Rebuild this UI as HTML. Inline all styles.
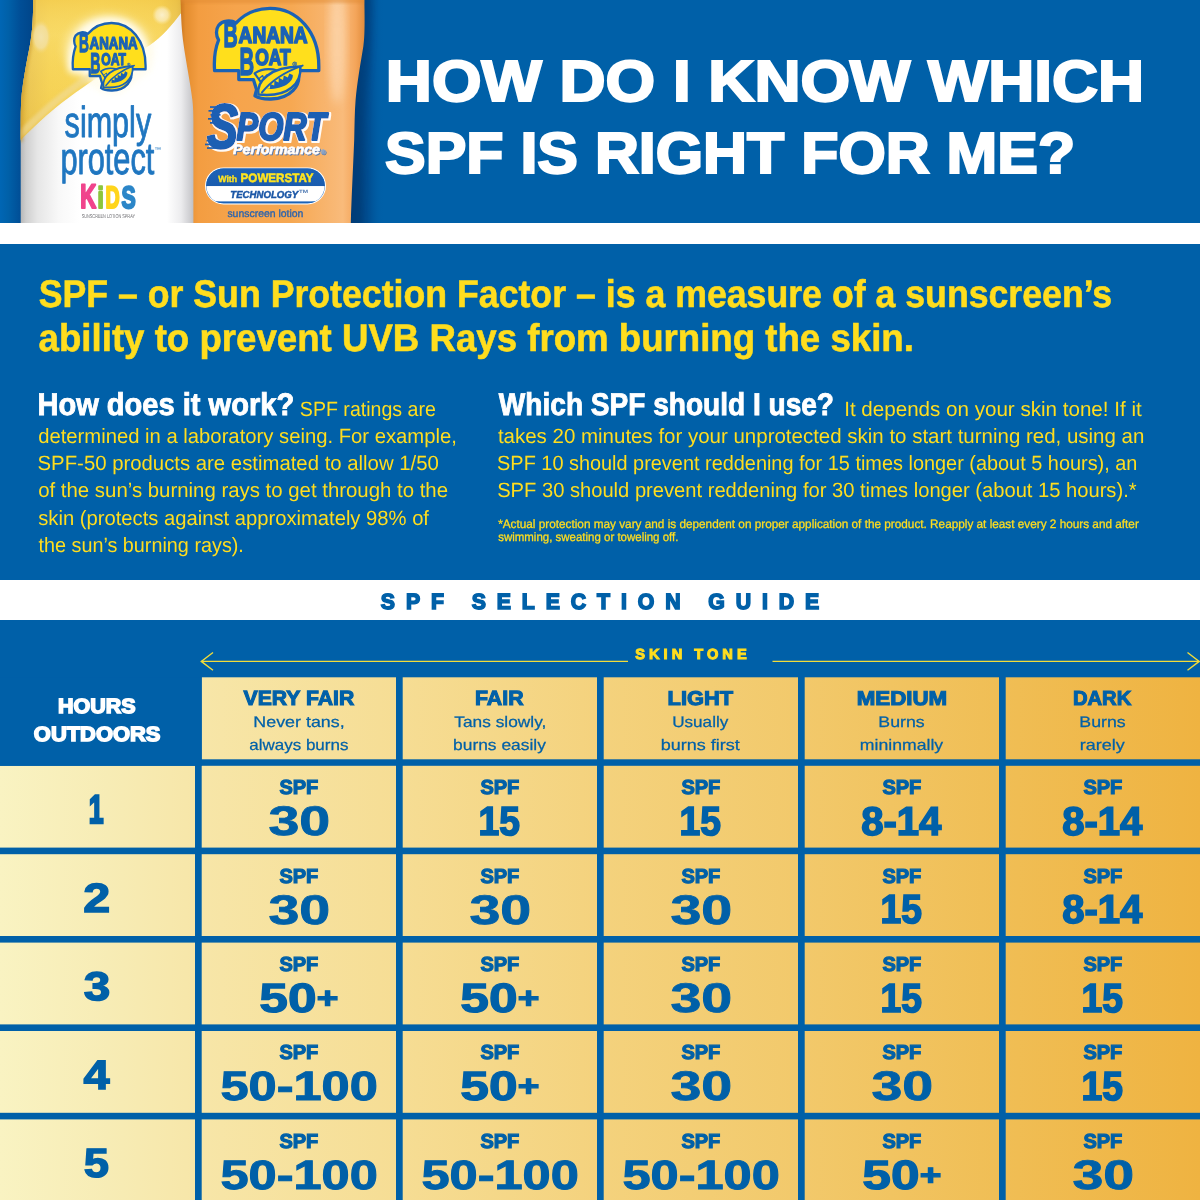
<!DOCTYPE html>
<html lang="en">
<head>
<meta charset="utf-8">
<title>How do I know which SPF is right for me?</title>
<style>
*{margin:0;padding:0;box-sizing:border-box}
html,body{width:1200px;height:1200px;overflow:hidden;background:#fff}
body{position:relative;font-family:"Liberation Sans","DejaVu Sans",sans-serif;color:#0060a8;text-rendering:geometricPrecision;-webkit-font-smoothing:antialiased}
.t{position:absolute;left:0;white-space:nowrap;line-height:1;transform-origin:0 0;font-weight:400;font-style:normal;display:block;paint-order:stroke fill}
.b{font-weight:700}
sup{font-size:0.72em;vertical-align:baseline;position:relative;top:-0.13em;line-height:0}
.i{font-style:italic}
h1,h2,h3,p,strong,small,th,td{font-weight:400;font-size:inherit}
#top{position:absolute;left:0;top:0;width:1200px;height:223px;background:#0060a8;overflow:hidden}
#info{position:absolute;left:0;top:244px;width:1200px;height:336px;background:#0060a8;color:#ffdd1e}
#guide-title{position:absolute;left:0;top:580px;width:1200px;height:40px;background:#fff}
#guide{position:absolute;left:0;top:620px;width:1200px;height:580px;background:#0060a8}
#grid{position:absolute;left:0;top:57px;width:1200px;height:523px;background:linear-gradient(90deg,#f9f3c2 0%,#f7ecb5 9%,#f7e6a8 16.7%,#f6dd94 33.3%,#f4d27d 50%,#f2c96b 66.7%,#f0be55 83.3%,#efb341 100%)}
.lines{position:absolute;left:0;top:0;width:1200px;height:523px}
.arrow{position:absolute;left:0;top:0;width:1200px;height:60px;overflow:visible}
table,thead,tbody,tr,th,td{display:block}
</style>
</head>
<body>
<header id="top">
<svg id="bottles" viewBox="0 0 400 223" width="400" height="223" style="position:absolute;left:0;top:0" role="img" aria-label="Banana Boat Simply Protect Kids and Banana Boat Sport Performance sunscreen bottles">
<defs>
<linearGradient id="gW" gradientUnits="userSpaceOnUse" x1="20" y1="0" x2="195" y2="0">
 <stop offset="0" stop-color="#b4b4b4"/><stop offset="0.035" stop-color="#cfcfcf"/><stop offset="0.1" stop-color="#e6e6e6"/><stop offset="0.22" stop-color="#f8f8f8"/>
 <stop offset="0.34" stop-color="#ffffff"/><stop offset="0.84" stop-color="#ffffff"/><stop offset="0.92" stop-color="#ececee"/><stop offset="0.97" stop-color="#cfcfd2"/><stop offset="1" stop-color="#b9b9bc"/>
</linearGradient>
<linearGradient id="gY" gradientUnits="userSpaceOnUse" x1="20" y1="0" x2="185" y2="0">
 <stop offset="0" stop-color="#d7ab3a"/><stop offset="0.06" stop-color="#eac658"/><stop offset="0.18" stop-color="#f6d45a"/><stop offset="0.5" stop-color="#f9d95c"/>
 <stop offset="0.85" stop-color="#f6d052"/><stop offset="0.95" stop-color="#e3b944"/><stop offset="1" stop-color="#c79a34"/>
</linearGradient>
<linearGradient id="gYv" gradientUnits="userSpaceOnUse" x1="0" y1="0" x2="0" y2="140">
 <stop offset="0" stop-color="#f3c94a" stop-opacity="0.55"/><stop offset="0.25" stop-color="#fbe27a" stop-opacity="0.35"/><stop offset="0.6" stop-color="#f6cf4c" stop-opacity="0.2"/><stop offset="1" stop-color="#e9bd3c" stop-opacity="0.55"/>
</linearGradient>
<radialGradient id="gGlow" gradientUnits="userSpaceOnUse" cx="108" cy="52" r="48">
 <stop offset="0" stop-color="#fffdf0" stop-opacity="1"/><stop offset="0.7" stop-color="#fff8d8" stop-opacity="0.9"/><stop offset="0.86" stop-color="#fdeea8" stop-opacity="0.45"/><stop offset="1" stop-color="#f9dc6a" stop-opacity="0"/>
</radialGradient>
<radialGradient id="gBok" gradientUnits="userSpaceOnUse" cx="162" cy="15" r="10">
 <stop offset="0" stop-color="#fbf1d0" stop-opacity="0.95"/><stop offset="0.6" stop-color="#fbeec4" stop-opacity="0.7"/><stop offset="1" stop-color="#fbe9a0" stop-opacity="0"/>
</radialGradient>
<radialGradient id="gBok2" cx="0.5" cy="0.5" r="0.5">
 <stop offset="0" stop-color="#f3e3ad" stop-opacity="0.95"/><stop offset="0.65" stop-color="#f3e0a2" stop-opacity="0.8"/><stop offset="1" stop-color="#f5d778" stop-opacity="0"/>
</radialGradient>
<linearGradient id="gO" gradientUnits="userSpaceOnUse" x1="180" y1="0" x2="365" y2="0">
 <stop offset="0" stop-color="#c9761f"/><stop offset="0.03" stop-color="#e48d2e"/><stop offset="0.1" stop-color="#f39d41"/><stop offset="0.3" stop-color="#f6a44c"/>
 <stop offset="0.6" stop-color="#f6a852"/><stop offset="0.8" stop-color="#f8b56f"/><stop offset="0.88" stop-color="#f9bb7b"/><stop offset="0.95" stop-color="#f4a55a"/><stop offset="1" stop-color="#e18c3c"/>
</linearGradient>
<linearGradient id="gSh" gradientUnits="userSpaceOnUse" x1="350" y1="0" x2="384" y2="0">
 <stop offset="0" stop-color="#003a76"/><stop offset="0.3" stop-color="#00427f"/><stop offset="0.6" stop-color="#004f93" stop-opacity="0.85"/><stop offset="1" stop-color="#0060a8" stop-opacity="0"/>
</linearGradient>
<filter id="fWhiteSh" x="-10%" y="-10%" width="125%" height="125%"><feMorphology in="SourceAlpha" operator="dilate" radius="0.5" result="d"/><feOffset in="d" dx="1.2" dy="0.9" result="o"/><feFlood flood-color="#ffffff" flood-opacity="0.95"/><feComposite in2="o" operator="in" result="sh"/><feMerge><feMergeNode in="sh"/><feMergeNode in="SourceGraphic"/></feMerge></filter>
<filter id="fBlueSh" x="-10%" y="-20%" width="125%" height="150%"><feOffset in="SourceAlpha" dx="0.8" dy="0.9" result="o"/><feFlood flood-color="#3f76bd" flood-opacity="0.9"/><feComposite in2="o" operator="in" result="sh"/><feMerge><feMergeNode in="sh"/><feMergeNode in="SourceGraphic"/></feMerge></filter>
<filter id="fBlur1" x="-20%" y="-20%" width="140%" height="140%"><feGaussianBlur stdDeviation="1.6"/></filter>
<filter id="fBlur" x="-20%" y="-20%" width="140%" height="140%"><feGaussianBlur stdDeviation="3.2"/></filter>
<filter id="fBlur2" x="-30%" y="-30%" width="160%" height="160%"><feGaussianBlur stdDeviation="5"/></filter>
<linearGradient id="gShL" gradientUnits="userSpaceOnUse" x1="0" y1="0" x2="34" y2="0">
 <stop offset="0" stop-color="#0066b4"/><stop offset="0.25" stop-color="#0060a8"/><stop offset="0.6" stop-color="#004e96"/><stop offset="1" stop-color="#004488"/>
</linearGradient>
<linearGradient id="gPill" x1="0" y1="0" x2="0" y2="1">
 <stop offset="0" stop-color="#1c63b7"/><stop offset="1" stop-color="#1a5cae"/>
</linearGradient>
<clipPath id="cB1"><path d="M33.2 -2 C33.2 22 31.8 36 29 50 C26 65 22.5 84 21.2 100 C20.7 108 20.7 116 20.7 124 L20.7 224 L200 224 L200 -2 Z"/></clipPath>
<clipPath id="cB2"><path d="M180.6 -2 C181 18 181.6 30 183.5 44 C186 62 190.5 84 192.4 100 C193.2 107 193.4 114 193.4 122 L193.4 224 L350.8 224 C351.4 200 353 170 354.2 140 C354.6 125 354.6 112 355.6 100 C357.2 82 360.8 62 363.4 46 C364.8 36 364.8 22 364.3 -2 Z"/></clipPath>
<clipPath id="cPill"><rect x="206.3" y="168.6" width="118.4" height="34.6" rx="17.3" ry="17.3"/></clipPath>
</defs>
<rect x="0" y="0" width="34" height="223" fill="url(#gShL)"/>
<rect x="348" y="0" width="36" height="223" fill="url(#gSh)"/>
<path d="M360 -6 L372 -6 C372 30 370 60 366 90 C364 110 363.5 140 362 170 L360 230 L346 230 Z" fill="#003c78" opacity="0.55" filter="url(#fBlur)"/>
<g clip-path="url(#cB1)">
<rect x="18" y="-2" width="184" height="227" fill="url(#gW)"/>
<path d="M18 142.5 L21 139.5 C30 130.5 38 123 46 115.8 C58 105 76 91.5 100 75.7 C118 64 136 54.5 150 45 C162 36.8 172 25 181 13 L200 -10 L18 -10 Z" fill="url(#gY)"/>
<path d="M18 142.5 L21 139.5 C30 130.5 38 123 46 115.8 C58 105 76 91.5 100 75.7 C118 64 136 54.5 150 45 C162 36.8 172 25 181 13 L200 -10 L18 -10 Z" fill="url(#gYv)"/>
<ellipse cx="108" cy="50" rx="44" ry="36" fill="#fff6cc" opacity="0.55" filter="url(#fBlur2)"/>
<path d="M72 69 C70 40 84 21 109 21 C134 21 148 40 147 69 L131 70 C131 82 124 91 112 92 L101 88 L97 76 L88 76 L88 69 Z" fill="#fffdf2" stroke="#fffdf2" stroke-width="7" stroke-linejoin="round" opacity="0.95" filter="url(#fBlur)"/>
<path d="M16 138 L21 133.5 C30 124.5 38 117 46 109.8 C58 99 76 85.5 100 69.7" fill="none" stroke="#f0dc9c" stroke-width="7" opacity="0.6" filter="url(#fBlur1)"/>
<path d="M33 -4 C33 22 31.6 36 28.8 50 C25.8 65 22.3 84 21 100 C20.5 108 20.5 130 20.5 142" fill="none" stroke="#c9982e" stroke-width="5" opacity="0.55" filter="url(#fBlur1)"/>
<circle cx="162" cy="15" r="10" fill="url(#gBok)"/>
<ellipse cx="41" cy="37" rx="10" ry="17" fill="url(#gBok2)"/>
</g>
<g clip-path="url(#cB2)"><rect x="178" y="-2" width="190" height="227" fill="url(#gO)"/><ellipse cx="337" cy="42" rx="8" ry="62" fill="#fdd9b2" opacity="0.75" filter="url(#fBlur2)"/><rect x="178" y="-6" width="190" height="9" fill="#df8a32" opacity="0.5" filter="url(#fBlur1)"/></g>
<g transform="translate(-76.95 16.67) scale(0.698 0.745)">
<path d="M214.6 70.6 C213.8 60 215 49 218.6 40 C216 36 215.6 29.5 218.6 25.4 C222.4 20.6 230.5 19.6 236 23 C245 13.4 257 8.4 270 8.4 C297.5 8.4 318.8 32 318.8 66 L318.8 70.6 L298 70.6 C302 86 290 98.6 271 99 C264 99.2 258.4 98 255 95.8 L256.6 89.8 L253.4 79.6 L238.8 79.6 L238.8 70.6 Z" fill="#ffdf1c" stroke="#1b62b5" stroke-width="3.3" stroke-linejoin="round"/>
<path d="M254.6 73.4 C260.5 69.4 269.5 68.2 277.5 70.4 C273.5 77 267.6 81.4 261.4 82.8 Z" fill="#ffdf1c" stroke="#1b62b5" stroke-width="2.1" stroke-linejoin="round"/>
<path d="M258.6 79 l4 -3.4 l1 2.6 l3.6 -3.4 l0.8 2.4 l3.2 -2.6" fill="none" stroke="#1b62b5" stroke-width="1.3" stroke-linejoin="round"/>
<path d="M258.4 94.6 C256.4 81 270 67 300.4 66.6 C301.4 82.5 289.5 98 258.4 94.6 Z" fill="#ffdf1c" stroke="#1b62b5" stroke-width="2.5" stroke-linejoin="round"/>
<path d="M262 92.4 C271 81 283 72.4 302.6 65.6" fill="none" stroke="#1b62b5" stroke-width="2" stroke-linecap="round"/>
<path d="M266.4 89 l3.6 -0.4 l0.2 -4.6 l4 1.6 l0.2 -5 l4.2 2 l0.2 -4.8 l4.2 2.2 l0.8 -4.6 l4 2 l1.6 -4 l3.4 1.6 C293.4 81.6 284 89.6 266.4 89 Z" fill="#1b62b5"/>
<g fill="#1b62b5" stroke="#1b62b5" stroke-width="1.7" stroke-linejoin="round" font-family="'Liberation Sans','DejaVu Sans',sans-serif" font-weight="700">
<text><tspan x="223.6" y="47" font-size="36.5" textLength="14.2" lengthAdjust="spacingAndGlyphs">B</tspan><tspan x="238.6" y="43.4" font-size="23" textLength="69" lengthAdjust="spacingAndGlyphs">ANANA</tspan> <tspan x="239.6" y="75" font-size="39" textLength="14.6" lengthAdjust="spacingAndGlyphs">B</tspan><tspan x="255.2" y="65.4" font-size="22.6" textLength="35.6" lengthAdjust="spacingAndGlyphs">OAT</tspan><tspan x="292.4" y="65.6" font-size="6" stroke-width="0.25" font-weight="400">®</tspan></text>
</g>
</g>
<g transform="">
<path d="M214.6 70.6 C213.8 60 215 49 218.6 40 C216 36 215.6 29.5 218.6 25.4 C222.4 20.6 230.5 19.6 236 23 C245 13.4 257 8.4 270 8.4 C297.5 8.4 318.8 32 318.8 66 L318.8 70.6 L298 70.6 C302 86 290 98.6 271 99 C264 99.2 258.4 98 255 95.8 L256.6 89.8 L253.4 79.6 L238.8 79.6 L238.8 70.6 Z" fill="#ffdf1c" stroke="#1b62b5" stroke-width="3.3" stroke-linejoin="round"/>
<path d="M254.6 73.4 C260.5 69.4 269.5 68.2 277.5 70.4 C273.5 77 267.6 81.4 261.4 82.8 Z" fill="#ffdf1c" stroke="#1b62b5" stroke-width="2.1" stroke-linejoin="round"/>
<path d="M258.6 79 l4 -3.4 l1 2.6 l3.6 -3.4 l0.8 2.4 l3.2 -2.6" fill="none" stroke="#1b62b5" stroke-width="1.3" stroke-linejoin="round"/>
<path d="M258.4 94.6 C256.4 81 270 67 300.4 66.6 C301.4 82.5 289.5 98 258.4 94.6 Z" fill="#ffdf1c" stroke="#1b62b5" stroke-width="2.5" stroke-linejoin="round"/>
<path d="M262 92.4 C271 81 283 72.4 302.6 65.6" fill="none" stroke="#1b62b5" stroke-width="2" stroke-linecap="round"/>
<path d="M266.4 89 l3.6 -0.4 l0.2 -4.6 l4 1.6 l0.2 -5 l4.2 2 l0.2 -4.8 l4.2 2.2 l0.8 -4.6 l4 2 l1.6 -4 l3.4 1.6 C293.4 81.6 284 89.6 266.4 89 Z" fill="#1b62b5"/>
<g fill="#1b62b5" stroke="#1b62b5" stroke-width="1.7" stroke-linejoin="round" font-family="'Liberation Sans','DejaVu Sans',sans-serif" font-weight="700">
<text><tspan x="223.6" y="47" font-size="36.5" textLength="14.2" lengthAdjust="spacingAndGlyphs">B</tspan><tspan x="238.6" y="43.4" font-size="23" textLength="69" lengthAdjust="spacingAndGlyphs">ANANA</tspan> <tspan x="239.6" y="75" font-size="39" textLength="14.6" lengthAdjust="spacingAndGlyphs">B</tspan><tspan x="255.2" y="65.4" font-size="22.6" textLength="35.6" lengthAdjust="spacingAndGlyphs">OAT</tspan><tspan x="292.4" y="65.6" font-size="6" stroke-width="0.25" font-weight="400">®</tspan></text>
</g>
</g>
<g font-family="'Liberation Sans','DejaVu Sans',sans-serif" fill="#1f76c0" stroke="#1f76c0" stroke-width="0.9" stroke-linejoin="round">
<text><tspan x="64.6" y="136.6" font-size="43.6" textLength="86.6" lengthAdjust="spacingAndGlyphs">simply</tspan> <tspan x="60.4" y="174.2" font-size="45" textLength="94" lengthAdjust="spacingAndGlyphs">protect</tspan><tspan x="154.2" y="151.6" font-size="7" stroke="none">™</tspan></text>
</g>
<g font-family="'Liberation Sans','DejaVu Sans',sans-serif" font-weight="700" font-size="34" stroke-width="2.2" stroke-linejoin="round" stroke-linecap="round">
<text><tspan x="80.2" y="207.6" fill="#f0448c" stroke="#f0448c" textLength="16" lengthAdjust="spacingAndGlyphs">K</tspan><tspan x="97.6" y="207.6" fill="#8cc63e" stroke="#8cc63e" font-size="30" textLength="6.2" lengthAdjust="spacingAndGlyphs">i</tspan><tspan x="105.4" y="207.6" fill="#ffd51c" stroke="#ffd51c" font-size="31" textLength="14.2" lengthAdjust="spacingAndGlyphs">D</tspan><tspan x="121.6" y="207.6" fill="#2c86c8" stroke="#2c86c8" font-size="31" textLength="14.2" lengthAdjust="spacingAndGlyphs">S</tspan></text>
</g>
<text font-family="'Liberation Sans','DejaVu Sans',sans-serif" x="81.7" y="217.6" font-size="5.6" fill="#6f6f73" textLength="53.3" lengthAdjust="spacingAndGlyphs">SUNSCREEN LOTION SPRAY</text>
<g font-family="'Liberation Sans','DejaVu Sans',sans-serif" font-weight="700" font-style="italic" fill="#1d5fb3" stroke="#1d5fb3" stroke-width="2.2" stroke-linejoin="round" filter="url(#fWhiteSh)">
<text><tspan x="207" y="148.4" font-size="63" textLength="31" lengthAdjust="spacingAndGlyphs">S</tspan><tspan x="236.5" y="140" font-size="39" textLength="89.5" lengthAdjust="spacingAndGlyphs">PORT</tspan></text>
</g>
<rect x="210" y="106.2" width="16" height="1.7" fill="#1d5fb3"/><rect x="208.5" y="110" width="14" height="1.7" fill="#1d5fb3"/><rect x="210.5" y="114" width="10" height="1.7" fill="#1d5fb3"/><rect x="208" y="118" width="9" height="1.7" fill="#1d5fb3"/><rect x="210" y="122" width="8" height="1.7" fill="#1d5fb3"/><rect x="206.5" y="139.8" width="12" height="1.7" fill="#1d5fb3"/><rect x="205" y="143.6" width="16" height="1.7" fill="#1d5fb3"/><rect x="207" y="147.2" width="14" height="1.7" fill="#1d5fb3"/>
<text font-family="'Liberation Sans','DejaVu Sans',sans-serif" x="233" y="153.6" font-size="13.6" font-weight="700" font-style="italic" fill="#fff" stroke="#fff" stroke-width="0.55" filter="url(#fBlueSh)" ><tspan textLength="87" lengthAdjust="spacingAndGlyphs">Performance</tspan><tspan x="320.8" y="154.4" font-size="6.4" font-style="normal" fill="#a9bcd6" stroke="#7f9fca" stroke-width="0.3">®</tspan></text>
<rect x="205" y="167.4" width="121" height="37" rx="18.5" ry="18.5" fill="#fff"/>
<rect x="206.6" y="169" width="117.8" height="33.8" rx="16.9" ry="16.9" fill="none" stroke="#1c63b7" stroke-width="1.1"/>
<g clip-path="url(#cPill)"><rect x="205" y="167" width="122" height="19.2" fill="url(#gPill)"/><rect x="205" y="186.2" width="122" height="15.4" fill="#fff"/><rect x="205" y="201.4" width="122" height="3" fill="#1c63b7"/></g>
<text font-family="'Liberation Sans','DejaVu Sans',sans-serif" font-weight="700" fill="#ffe41f" stroke="#ffe41f"><tspan x="218.3" y="181.9" font-size="9" stroke-width="0.35" textLength="18.8" lengthAdjust="spacingAndGlyphs">With</tspan> <tspan x="240.6" y="182" font-size="12.2" stroke-width="0.5" textLength="73" lengthAdjust="spacingAndGlyphs">POWERSTAY</tspan></text>
<text font-family="'Liberation Sans','DejaVu Sans',sans-serif" font-weight="700" fill="#1a56a6"><tspan x="230.3" y="198" font-size="10.2" font-style="italic" stroke="#1a56a6" stroke-width="0.45" textLength="68" lengthAdjust="spacingAndGlyphs">TECHNOLOGY</tspan><tspan x="298.6" y="197.4" font-size="10.5" fill="#5a82b8">™</tspan></text>
<text font-family="'Liberation Sans','DejaVu Sans',sans-serif" x="227.4" y="216.5" font-size="10.6" fill="#2d64ad" stroke="#2d64ad" stroke-width="0.35" textLength="76" lengthAdjust="spacingAndGlyphs">sunscreen lotion</text>
</svg>
<h1><span class="t b" style="top:53px;font-size:58.02px;color:#fff;transform:translateX(385.86px) scaleX(1.0995);-webkit-text-stroke:2.2px #fff">HOW DO I KNOW WHICH</span> <span class="t b" style="top:126px;font-size:57.92px;color:#fff;transform:translateX(385.12px) scaleX(1.0514);-webkit-text-stroke:2.2px #fff">SPF IS RIGHT FOR ME?</span></h1>
</header>
<section id="info">
<h2><span class="t b" style="top:32px;font-size:38.60px;color:#ffdd1e;transform:translateX(38.64px) scaleX(0.9250);-webkit-text-stroke:0.6px #ffdd1e">SPF – or Sun Protection Factor – is a measure of a sunscreen’s</span> <span class="t b" style="top:76px;font-size:38.60px;color:#ffdd1e;transform:translateX(38.62px) scaleX(0.9496);-webkit-text-stroke:0.6px #ffdd1e">ability to prevent UVB Rays from burning the skin.</span></h2>
<article><h3><span class="t b" style="top:145px;font-size:31.40px;color:#fff;transform:translateX(37.42px) scaleX(0.9260);-webkit-text-stroke:0.9px #fff">How does it work?</span></h3>
<p><span class="t" style="top:156px;font-size:20.60px;color:#ffdd1e;transform:translateX(299.87px) scaleX(0.9503)">SPF ratings are</span> <span class="t" style="top:183px;font-size:20.60px;color:#ffdd1e;transform:translateX(38.15px) scaleX(0.9832)">determined in a laboratory seing. For example,</span> <span class="t" style="top:210px;font-size:20.60px;color:#ffdd1e;transform:translateX(37.56px) scaleX(0.9874)">SPF-50 products are estimated to allow 1/50</span> <span class="t" style="top:237px;font-size:20.60px;color:#ffdd1e;transform:translateX(38.19px) scaleX(0.9898)">of the sun’s burning rays to get through to the</span> <span class="t" style="top:265px;font-size:20.60px;color:#ffdd1e;transform:translateX(38.21px) scaleX(0.9810)">skin (protects against approximately 98% of</span> <span class="t" style="top:292px;font-size:20.60px;color:#ffdd1e;transform:translateX(38.48px) scaleX(0.9612)">the sun’s burning rays).</span></p></article>
<article><h3><span class="t b" style="top:145px;font-size:31.40px;color:#fff;transform:translateX(498.87px) scaleX(0.8938);-webkit-text-stroke:0.9px #fff">Which SPF should I use?</span></h3>
<p><span class="t" style="top:156px;font-size:20.60px;color:#ffdd1e;transform:translateX(844.18px) scaleX(0.9996)">It depends on your skin tone! If it</span> <span class="t" style="top:183px;font-size:20.60px;color:#ffdd1e;transform:translateX(497.92px) scaleX(0.9942)">takes 20 minutes for your unprotected skin to start turning red, using an</span> <span class="t" style="top:210px;font-size:20.60px;color:#ffdd1e;transform:translateX(497.10px) scaleX(0.9660)">SPF 10 should prevent reddening for 15 times longer (about 5 hours), an</span> <span class="t" style="top:237px;font-size:20.60px;color:#ffdd1e;transform:translateX(497.16px) scaleX(0.9782)">SPF 30 should prevent reddening for 30 times longer (about 15 hours).*</span></p>
<p><small><span class="t" style="top:274px;font-size:12.20px;color:#ffdd1e;transform:translateX(498.19px) scaleX(0.9659);-webkit-text-stroke:0.3px #ffdd1e">*Actual protection may vary and is dependent on proper application of the product. Reapply at least every 2 hours and after</span> <span class="t" style="top:287px;font-size:12.20px;color:#ffdd1e;transform:translateX(498.14px) scaleX(0.9416);-webkit-text-stroke:0.3px #ffdd1e">swimming, sweating or toweling off.</span></small></p></article>
</section>
<div id="guide-title"><h2><span class="t b" style="top:11px;font-size:21.91px;color:#0060a8;transform:translateX(380.87px) scaleX(0.9700);letter-spacing:11.24px;-webkit-text-stroke:1.6px #0060a8">SPF SELECTION GUIDE</span></h2></div>
<section id="guide">
<svg class="arrow" viewBox="0 0 1200 60" width="1200" height="60" aria-hidden="true"><g fill="none" stroke="#f2dc3a" stroke-width="1.4"><path d="M201.3 41.4H628"/><path d="M213 32.5L201.3 41.4L213 50.3"/><path d="M772.5 41.4H1199.2"/><path d="M1187.5 32.5L1199.2 41.4L1187.5 50.3"/></g></svg>
<div class="skintone"><span class="t b" style="top:28px;font-size:14.64px;color:#ffdd1e;transform:translateX(635.25px) scaleX(1.0000);letter-spacing:4.01px;-webkit-text-stroke:1.0px #ffdd1e">SKIN TONE</span></div>
<div id="grid">
<svg class="lines" viewBox="0 0 1200 523.00" width="1200" height="523.00" aria-hidden="true"><g fill="#0060a8"><rect x="195.00" y="0" width="6.70" height="523.00"/><rect x="396.00" y="0" width="6.70" height="523.00"/><rect x="597.00" y="0" width="6.70" height="523.00"/><rect x="798.00" y="0" width="6.70" height="523.00"/><rect x="999.00" y="0" width="6.70" height="523.00"/><rect x="0" y="82.30" width="1200" height="6.50"/><rect x="0" y="170.60" width="1200" height="6.60"/><rect x="0" y="259.00" width="1200" height="6.60"/><rect x="0" y="347.40" width="1200" height="6.60"/><rect x="0" y="435.80" width="1200" height="6.60"/><rect x="0" y="0" width="201.70" height="88.80"/><rect x="0" y="0" width="1200" height="0.30"/></g></svg>
<table><thead><tr>
<th><span class="t b" style="top:20px;font-size:20.57px;color:#fff;transform:translateX(58.08px) scaleX(1.0449);-webkit-text-stroke:1.5px #fff">HOURS</span> <span class="t b" style="top:48px;font-size:20.56px;color:#fff;transform:translateX(33.84px) scaleX(1.0660);-webkit-text-stroke:1.5px #fff">OUTDOORS</span></th>
<th><strong class="t b" style="top:12px;font-size:20.47px;color:#0060a8;transform:translateX(243.59px) scaleX(1.0356);-webkit-text-stroke:1.1px #0060a8">VERY FAIR</strong> <span class="t" style="top:38px;font-size:15.30px;color:#0060a8;transform:translateX(253.31px) scaleX(1.1680);-webkit-text-stroke:0.25px #0060a8">Never tans,</span> <span class="t" style="top:61px;font-size:15.30px;color:#0060a8;transform:translateX(249.22px) scaleX(1.1114);-webkit-text-stroke:0.25px #0060a8">always burns</span></th>
<th><strong class="t b" style="top:12px;font-size:20.47px;color:#0060a8;transform:translateX(475.00px) scaleX(1.0421);-webkit-text-stroke:1.1px #0060a8">FAIR</strong> <span class="t" style="top:38px;font-size:15.30px;color:#0060a8;transform:translateX(454.30px) scaleX(1.1321);-webkit-text-stroke:0.25px #0060a8">Tans slowly,</span> <span class="t" style="top:61px;font-size:15.30px;color:#0060a8;transform:translateX(453.06px) scaleX(1.1366);-webkit-text-stroke:0.25px #0060a8">burns easily</span></th>
<th><strong class="t b" style="top:13px;font-size:19.83px;color:#0060a8;transform:translateX(667.60px) scaleX(1.0993);-webkit-text-stroke:1.1px #0060a8">LIGHT</strong> <span class="t" style="top:38px;font-size:15.30px;color:#0060a8;transform:translateX(672.14px) scaleX(1.1203);-webkit-text-stroke:0.25px #0060a8">Usually</span> <span class="t" style="top:61px;font-size:15.30px;color:#0060a8;transform:translateX(660.70px) scaleX(1.1786);-webkit-text-stroke:0.25px #0060a8">burns first</span></th>
<th><strong class="t b" style="top:12px;font-size:20.00px;color:#0060a8;transform:translateX(856.69px) scaleX(1.1148);-webkit-text-stroke:1.1px #0060a8">MEDIUM</strong> <span class="t" style="top:38px;font-size:15.30px;color:#0060a8;transform:translateX(878.35px) scaleX(1.1597);-webkit-text-stroke:0.25px #0060a8">Burns</span> <span class="t" style="top:61px;font-size:15.30px;color:#0060a8;transform:translateX(859.86px) scaleX(1.1523);-webkit-text-stroke:0.25px #0060a8">mininmally</span></th>
<th><strong class="t b" style="top:12px;font-size:20.31px;color:#0060a8;transform:translateX(1072.92px) scaleX(0.9939);-webkit-text-stroke:1.1px #0060a8">DARK</strong> <span class="t" style="top:38px;font-size:15.30px;color:#0060a8;transform:translateX(1079.35px) scaleX(1.1597);-webkit-text-stroke:0.25px #0060a8">Burns</span> <span class="t" style="top:61px;font-size:15.30px;color:#0060a8;transform:translateX(1079.83px) scaleX(1.1773);-webkit-text-stroke:0.25px #0060a8">rarely</span></th>
</tr></thead><tbody>
<tr><th><span class="t b" style="top:114px;font-size:39.95px;color:#0060a8;transform:translateX(88.71px) scaleX(0.6677);-webkit-text-stroke:2.4px #0060a8">1</span></th>
<td><span class="t b" style="top:101px;font-size:20.11px;color:#0060a8;transform:translateX(279.42px) scaleX(0.9943);-webkit-text-stroke:1.2px #0060a8">SPF</span> <strong class="t b" style="top:124px;font-size:41.37px;color:#0060a8;transform:translateX(268.44px) scaleX(1.3424);-webkit-text-stroke:0.8px #0060a8">30</strong></td>
<td><span class="t b" style="top:101px;font-size:20.11px;color:#0060a8;transform:translateX(480.42px) scaleX(0.9943);-webkit-text-stroke:1.2px #0060a8">SPF</span> <strong class="t b" style="top:124px;font-size:40.56px;color:#0060a8;transform:translateX(478.49px) scaleX(0.9176);-webkit-text-stroke:1.7px #0060a8">15</strong></td>
<td><span class="t b" style="top:101px;font-size:20.11px;color:#0060a8;transform:translateX(681.42px) scaleX(0.9943);-webkit-text-stroke:1.2px #0060a8">SPF</span> <strong class="t b" style="top:124px;font-size:40.56px;color:#0060a8;transform:translateX(679.49px) scaleX(0.9176);-webkit-text-stroke:1.7px #0060a8">15</strong></td>
<td><span class="t b" style="top:101px;font-size:20.11px;color:#0060a8;transform:translateX(882.42px) scaleX(0.9943);-webkit-text-stroke:1.2px #0060a8">SPF</span> <strong class="t b" style="top:125px;font-size:40.10px;color:#0060a8;transform:translateX(861.14px) scaleX(1.0006);-webkit-text-stroke:1.6px #0060a8">8-14</strong></td>
<td><span class="t b" style="top:101px;font-size:20.11px;color:#0060a8;transform:translateX(1083.42px) scaleX(0.9943);-webkit-text-stroke:1.2px #0060a8">SPF</span> <strong class="t b" style="top:125px;font-size:40.10px;color:#0060a8;transform:translateX(1062.14px) scaleX(1.0006);-webkit-text-stroke:1.6px #0060a8">8-14</strong></td>
</tr>
<tr><th><span class="t b" style="top:201px;font-size:40.74px;color:#0060a8;transform:translateX(83.16px) scaleX(1.1891);-webkit-text-stroke:1.4px #0060a8">2</span></th>
<td><span class="t b" style="top:190px;font-size:20.11px;color:#0060a8;transform:translateX(279.42px) scaleX(0.9943);-webkit-text-stroke:1.2px #0060a8">SPF</span> <strong class="t b" style="top:213px;font-size:41.37px;color:#0060a8;transform:translateX(268.44px) scaleX(1.3424);-webkit-text-stroke:0.8px #0060a8">30</strong></td>
<td><span class="t b" style="top:190px;font-size:20.11px;color:#0060a8;transform:translateX(480.42px) scaleX(0.9943);-webkit-text-stroke:1.2px #0060a8">SPF</span> <strong class="t b" style="top:213px;font-size:41.37px;color:#0060a8;transform:translateX(469.44px) scaleX(1.3424);-webkit-text-stroke:0.8px #0060a8">30</strong></td>
<td><span class="t b" style="top:190px;font-size:20.11px;color:#0060a8;transform:translateX(681.42px) scaleX(0.9943);-webkit-text-stroke:1.2px #0060a8">SPF</span> <strong class="t b" style="top:213px;font-size:41.37px;color:#0060a8;transform:translateX(670.44px) scaleX(1.3424);-webkit-text-stroke:0.8px #0060a8">30</strong></td>
<td><span class="t b" style="top:190px;font-size:20.11px;color:#0060a8;transform:translateX(882.42px) scaleX(0.9943);-webkit-text-stroke:1.2px #0060a8">SPF</span> <strong class="t b" style="top:212px;font-size:40.56px;color:#0060a8;transform:translateX(880.49px) scaleX(0.9176);-webkit-text-stroke:1.7px #0060a8">15</strong></td>
<td><span class="t b" style="top:190px;font-size:20.11px;color:#0060a8;transform:translateX(1083.42px) scaleX(0.9943);-webkit-text-stroke:1.2px #0060a8">SPF</span> <strong class="t b" style="top:213px;font-size:40.10px;color:#0060a8;transform:translateX(1062.14px) scaleX(1.0006);-webkit-text-stroke:1.6px #0060a8">8-14</strong></td>
</tr>
<tr><th><span class="t b" style="top:290px;font-size:40.02px;color:#0060a8;transform:translateX(83.71px) scaleX(1.1914);-webkit-text-stroke:1.4px #0060a8">3</span></th>
<td><span class="t b" style="top:278px;font-size:20.11px;color:#0060a8;transform:translateX(279.42px) scaleX(0.9943);-webkit-text-stroke:1.2px #0060a8">SPF</span> <strong class="t b" style="top:301px;font-size:40.87px;color:#0060a8;transform:translateX(259.35px) scaleX(1.2601);-webkit-text-stroke:1.2px #0060a8">50<sup>+</sup></strong></td>
<td><span class="t b" style="top:278px;font-size:20.11px;color:#0060a8;transform:translateX(480.42px) scaleX(0.9943);-webkit-text-stroke:1.2px #0060a8">SPF</span> <strong class="t b" style="top:301px;font-size:40.87px;color:#0060a8;transform:translateX(460.35px) scaleX(1.2601);-webkit-text-stroke:1.2px #0060a8">50<sup>+</sup></strong></td>
<td><span class="t b" style="top:278px;font-size:20.11px;color:#0060a8;transform:translateX(681.42px) scaleX(0.9943);-webkit-text-stroke:1.2px #0060a8">SPF</span> <strong class="t b" style="top:301px;font-size:41.37px;color:#0060a8;transform:translateX(670.44px) scaleX(1.3424);-webkit-text-stroke:0.8px #0060a8">30</strong></td>
<td><span class="t b" style="top:278px;font-size:20.11px;color:#0060a8;transform:translateX(882.42px) scaleX(0.9943);-webkit-text-stroke:1.2px #0060a8">SPF</span> <strong class="t b" style="top:301px;font-size:40.56px;color:#0060a8;transform:translateX(880.49px) scaleX(0.9176);-webkit-text-stroke:1.7px #0060a8">15</strong></td>
<td><span class="t b" style="top:278px;font-size:20.11px;color:#0060a8;transform:translateX(1083.42px) scaleX(0.9943);-webkit-text-stroke:1.2px #0060a8">SPF</span> <strong class="t b" style="top:301px;font-size:40.56px;color:#0060a8;transform:translateX(1081.49px) scaleX(0.9176);-webkit-text-stroke:1.7px #0060a8">15</strong></td>
</tr>
<tr><th><span class="t b" style="top:378px;font-size:41.21px;color:#0060a8;transform:translateX(83.40px) scaleX(1.1393);-webkit-text-stroke:1.4px #0060a8">4</span></th>
<td><span class="t b" style="top:366px;font-size:20.11px;color:#0060a8;transform:translateX(279.42px) scaleX(0.9943);-webkit-text-stroke:1.2px #0060a8">SPF</span> <strong class="t b" style="top:389px;font-size:40.96px;color:#0060a8;transform:translateX(220.44px) scaleX(1.2342);-webkit-text-stroke:1.0px #0060a8">50-100</strong></td>
<td><span class="t b" style="top:366px;font-size:20.11px;color:#0060a8;transform:translateX(480.42px) scaleX(0.9943);-webkit-text-stroke:1.2px #0060a8">SPF</span> <strong class="t b" style="top:389px;font-size:40.87px;color:#0060a8;transform:translateX(460.35px) scaleX(1.2601);-webkit-text-stroke:1.2px #0060a8">50<sup>+</sup></strong></td>
<td><span class="t b" style="top:366px;font-size:20.11px;color:#0060a8;transform:translateX(681.42px) scaleX(0.9943);-webkit-text-stroke:1.2px #0060a8">SPF</span> <strong class="t b" style="top:389px;font-size:41.37px;color:#0060a8;transform:translateX(670.44px) scaleX(1.3424);-webkit-text-stroke:0.8px #0060a8">30</strong></td>
<td><span class="t b" style="top:366px;font-size:20.11px;color:#0060a8;transform:translateX(882.42px) scaleX(0.9943);-webkit-text-stroke:1.2px #0060a8">SPF</span> <strong class="t b" style="top:389px;font-size:41.37px;color:#0060a8;transform:translateX(871.44px) scaleX(1.3424);-webkit-text-stroke:0.8px #0060a8">30</strong></td>
<td><span class="t b" style="top:366px;font-size:20.11px;color:#0060a8;transform:translateX(1083.42px) scaleX(0.9943);-webkit-text-stroke:1.2px #0060a8">SPF</span> <strong class="t b" style="top:389px;font-size:40.56px;color:#0060a8;transform:translateX(1081.49px) scaleX(0.9176);-webkit-text-stroke:1.7px #0060a8">15</strong></td>
</tr>
<tr><th><span class="t b" style="top:466px;font-size:40.91px;color:#0060a8;transform:translateX(83.81px) scaleX(1.1080);-webkit-text-stroke:1.4px #0060a8">5</span></th>
<td><span class="t b" style="top:455px;font-size:20.11px;color:#0060a8;transform:translateX(279.42px) scaleX(0.9943);-webkit-text-stroke:1.2px #0060a8">SPF</span> <strong class="t b" style="top:478px;font-size:40.96px;color:#0060a8;transform:translateX(220.44px) scaleX(1.2342);-webkit-text-stroke:1.0px #0060a8">50-100</strong></td>
<td><span class="t b" style="top:455px;font-size:20.11px;color:#0060a8;transform:translateX(480.42px) scaleX(0.9943);-webkit-text-stroke:1.2px #0060a8">SPF</span> <strong class="t b" style="top:478px;font-size:40.96px;color:#0060a8;transform:translateX(421.44px) scaleX(1.2342);-webkit-text-stroke:1.0px #0060a8">50-100</strong></td>
<td><span class="t b" style="top:455px;font-size:20.11px;color:#0060a8;transform:translateX(681.42px) scaleX(0.9943);-webkit-text-stroke:1.2px #0060a8">SPF</span> <strong class="t b" style="top:478px;font-size:40.96px;color:#0060a8;transform:translateX(622.44px) scaleX(1.2342);-webkit-text-stroke:1.0px #0060a8">50-100</strong></td>
<td><span class="t b" style="top:455px;font-size:20.11px;color:#0060a8;transform:translateX(882.42px) scaleX(0.9943);-webkit-text-stroke:1.2px #0060a8">SPF</span> <strong class="t b" style="top:478px;font-size:40.87px;color:#0060a8;transform:translateX(862.35px) scaleX(1.2601);-webkit-text-stroke:1.2px #0060a8">50<sup>+</sup></strong></td>
<td><span class="t b" style="top:455px;font-size:20.11px;color:#0060a8;transform:translateX(1083.42px) scaleX(0.9943);-webkit-text-stroke:1.2px #0060a8">SPF</span> <strong class="t b" style="top:478px;font-size:41.37px;color:#0060a8;transform:translateX(1072.44px) scaleX(1.3424);-webkit-text-stroke:0.8px #0060a8">30</strong></td>
</tr>
</tbody></table>
</div>
</section>
</body>
</html>
